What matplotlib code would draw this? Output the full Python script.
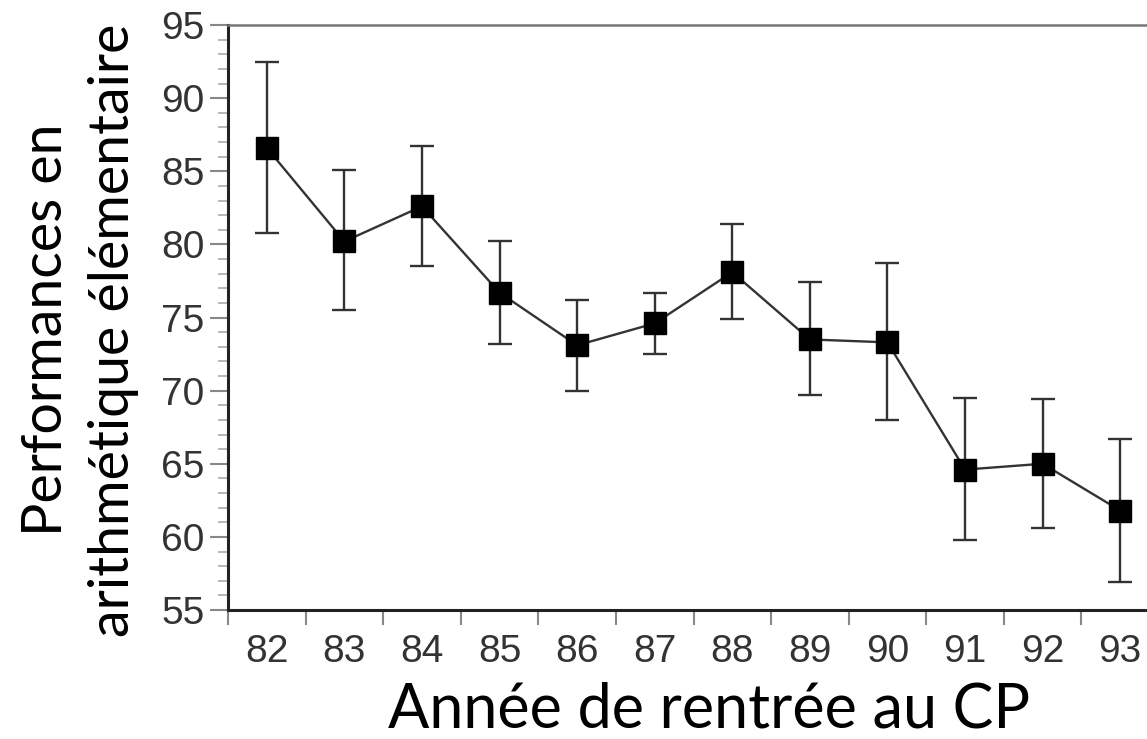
import matplotlib
matplotlib.use("Agg")
import matplotlib.pyplot as plt
from matplotlib.ticker import MultipleLocator, FixedLocator

# data
years = ["82", "83", "84", "85", "86", "87", "88", "89", "90", "91", "92", "93"]
scores = [86.6, 80.2, 82.6, 76.7, 73.1, 74.6, 78.1, 73.5, 73.3, 64.6, 65.0, 61.8]
upper = [92.5, 85.1, 86.7, 80.2, 76.2, 76.7, 81.4, 77.4, 78.7, 69.5, 69.4, 66.7]
lower = [80.8, 75.5, 78.5, 73.2, 70.0, 72.5, 74.9, 69.7, 68.0, 59.8, 60.6, 56.9]

err_lo = [s - l for s, l in zip(scores, lower)]
err_hi = [u - s for s, u in zip(scores, upper)]
xs = list(range(len(years)))

fig = plt.figure(figsize=(11.47, 7.39), dpi=100)
# axes run a bit past the right edge, like the cropped original
ax = fig.add_axes([228 / 1147, 1 - 610 / 739, 931 / 1147, 585 / 739])

ax.errorbar(xs, scores, yerr=[err_lo, err_hi], color="#333333", lw=1.7,
            ecolor="#333333", elinewidth=1.7, capsize=8.5, capthick=1.7,
            marker="s", markersize=16, markerfacecolor="black",
            markeredgecolor="black", zorder=3)

ax.set_xlim(-0.5, len(years) - 0.5)
ax.set_ylim(55, 95)

# x: labels at centres, ticks on the boundaries
ax.set_xticks(xs)
ax.set_xticklabels(years)
ax.xaxis.set_minor_locator(FixedLocator([i - 0.5 for i in range(len(years) + 1)]))
ax.tick_params(axis="x", which="major", length=0, pad=17, labelsize=28,
               labelcolor="#333333")
ax.tick_params(axis="x", which="minor", length=11, width=1.5, color="#888888",
               direction="out")

ax.yaxis.set_major_locator(MultipleLocator(5))
ax.yaxis.set_minor_locator(MultipleLocator(1))
ax.tick_params(axis="y", which="major", length=13, width=1.5, color="#888888",
               pad=4, labelsize=28, labelcolor="#333333")
ax.tick_params(axis="y", which="minor", length=7, width=1.2, color="#aaaaaa")

for lab in ax.get_xticklabels() + ax.get_yticklabels():
    lab.set_family("Liberation Sans")

ax.spines["left"].set_linewidth(2.2)
ax.spines["bottom"].set_linewidth(2.2)
ax.spines["left"].set_color("#222222")
ax.spines["bottom"].set_color("#222222")
ax.spines["top"].set_linewidth(1.8)
ax.spines["top"].set_color("#777777")
ax.spines["right"].set_visible(False)

fig.text(80 / 1147, 1 - 330 / 739, "Performances en\narithmétique élémentaire",
         rotation=90, ha="center", va="center", fontsize=40, family="Lato",
         linespacing=1.4, color="black")
fig.text(709 / 1147, 1 - 727 / 739, "Année de rentrée au CP", ha="center",
         va="baseline", fontsize=44, family="Lato", color="black")

fig.savefig("out.png", dpi=100)
